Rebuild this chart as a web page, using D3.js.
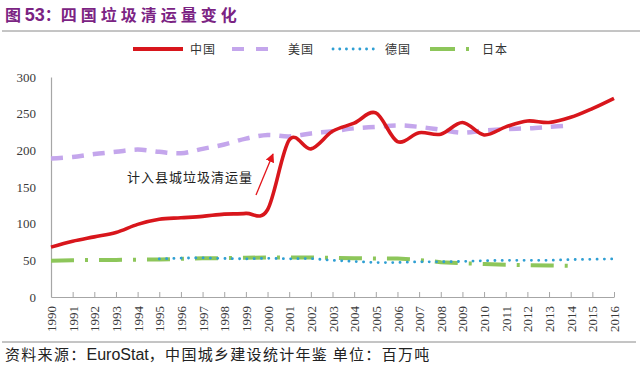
<!DOCTYPE html>
<html>
<head>
<meta charset="utf-8">
<script src="https://cdnjs.cloudflare.com/ajax/libs/d3/7.8.5/d3.min.js"></script>
<style>
  body { margin: 0; background: #fff; }
  .chart svg { display: block; }
</style>
</head>
<body>
<div class="chart"></div>
<script>
  // categories and series (million tonnes)
  var years = [1990, 1991, 1992, 1993, 1994, 1995, 1996, 1997, 1998, 1999, 2000, 2001, 2002,
               2003, 2004, 2005, 2006, 2007, 2008, 2009, 2010, 2011, 2012, 2013, 2014, 2015, 2016];
  var chinaYears = years;
  var china = [68, 76, 82, 88, 99, 106, 108, 110, 113, 114, 119, 214, 202,
               226, 237, 251, 212, 224, 222, 238, 221, 232, 240, 238, 245, 257, 271];
  var usaYears = years.slice(0, 25);
  var usa = [189, 191, 195, 198, 201, 198, 196, 202, 208, 216, 221, 219, 223,
             226, 230, 232, 234, 232, 228, 224, 227, 229, 230, 232, 234];
  var germanyYears = years.slice(5);
  var germany = [52, 53, 53.5, 52.5, 52, 52.8, 52, 52.5, 50, 48.5, 47, 47, 48,
                 48, 48.5, 49.5, 50, 50, 50, 51, 51.5, 52];
  var japanYears = years.slice(0, 25);
  var japan = [49.5, 50, 50.5, 50.5, 51, 51, 52, 53, 53, 53.5, 54, 54, 54,
               53.5, 53, 52.5, 52.5, 50.5, 47.5, 46, 45, 44, 43.5, 43, 42.5];
  var yTicks = [0, 50, 100, 150, 200, 250, 300];

  var seriesNames = ['中国', '美国', '德国', '日本'];

  var width = 640;
  var height = 370;
  var cjk = '"Noto Sans CJK SC", sans-serif';
  var serif = '"Liberation Serif", "DejaVu Serif", serif';

  var svg = d3.select('.chart')
    .append('svg')
    .attr('width', width)
    .attr('height', height);

  svg.append('rect')
    .attr('width', width)
    .attr('height', height)
    .attr('fill', '#fff');

  // title + rules
  var title = svg.append('text')
    .attr('x', 5)
    .attr('y', 21)
    .attr('fill', '#7b2383')
    .attr('font-weight', 'bold')
    .attr('font-family', cjk)
    .attr('font-size', 16);
  title.append('tspan').text('图 ');
  title.append('tspan')
    .attr('font-family', '"Liberation Sans", Arial, sans-serif')
    .attr('font-size', 18)
    .text('53');
  title.append('tspan').text('：');
  title.append('tspan')
    .attr('letter-spacing', 4)
    .text('四国垃圾清运量变化');

  svg.append('line')
    .attr('x1', 2).attr('x2', 640)
    .attr('y1', 31).attr('y2', 31)
    .attr('stroke', '#8a8a8a')
    .attr('stroke-width', 1);

  svg.append('line')
    .attr('x1', 2).attr('x2', 636)
    .attr('y1', 342).attr('y2', 342)
    .attr('stroke', '#8a8a8a')
    .attr('stroke-width', 1);

  var footer = svg.append('text')
    .attr('x', 5)
    .attr('y', 360)
    .attr('fill', '#222')
    .attr('font-family', cjk)
    .attr('font-size', 15)
    .attr('letter-spacing', 1.3);
  footer.append('tspan').text('资料来源：');
  footer.append('tspan')
    .attr('font-family', '"Liberation Sans", Arial, sans-serif')
    .attr('font-size', 16)
    .attr('letter-spacing', 0)
    .text('EuroStat');
  footer.append('tspan').text('，中国城乡建设统计年鉴 单位：百万吨');

  // scales
  var x = d3.scalePoint()
    .domain(years)
    .range([51, 614]);

  var y = d3.scaleLinear()
    .domain([0, 300])
    .range([297, 77]);

  // y axis: line and labels only
  var yAxis = svg.append('g')
    .attr('transform', 'translate(51,0)')
    .call(d3.axisLeft(y).tickValues(yTicks).tickSize(0).tickPadding(15));
  yAxis.select('.domain').attr('stroke', '#a6a6a6').attr('stroke-width', 1.2);
  yAxis.selectAll('text')
    .style('font-family', serif)
    .style('font-size', '13px')
    .attr('fill', '#3a3a3a');

  // x axis: inside ticks, rotated labels
  var xAxis = svg.append('g')
    .attr('transform', 'translate(0,297)')
    .call(d3.axisBottom(x).tickSizeInner(-5).tickSizeOuter(0).tickPadding(0));
  xAxis.select('.domain').attr('stroke', '#a6a6a6').attr('stroke-width', 1.2);
  xAxis.selectAll('.tick line').attr('stroke', '#a6a6a6');
  xAxis.selectAll('text')
    .style('font-family', serif)
    .style('font-size', '13px')
    .attr('fill', '#3a3a3a')
    .attr('text-anchor', 'end')
    .attr('transform', 'translate(0,9) rotate(-90)')
    .attr('x', 0)
    .attr('y', 0)
    .attr('dy', '0.35em');

  function pairs(ys, vs) {
    return ys.map(function(d, i) { return { year: d, value: vs[i] }; });
  }

  var smooth = d3.line()
    .x(function(d) { return x(d.year); })
    .y(function(d) { return y(d.value); })
    .curve(d3.curveCardinal.tension(0));

  var straight = d3.line()
    .x(function(d) { return x(d.year); })
    .y(function(d) { return y(d.value); });

  // draw order: japan, germany, usa, china on top
  svg.append('path')
    .datum(pairs(japanYears, japan))
    .attr('d', straight)
    .attr('fill', 'none')
    .attr('stroke', '#8dc65a')
    .attr('stroke-width', 4)
    .attr('stroke-dasharray', '23,11,3,11');

  svg.append('path')
    .datum(pairs(germanyYears, germany))
    .attr('d', straight)
    .attr('fill', 'none')
    .attr('stroke', '#2f9fd3')
    .attr('stroke-width', 2.8)
    .attr('stroke-linecap', 'round')
    .attr('stroke-dasharray', '0.1,7.2');

  svg.append('path')
    .datum(pairs(usaYears, usa))
    .attr('d', smooth)
    .attr('fill', 'none')
    .attr('stroke', '#c4a6ec')
    .attr('stroke-width', 4.5)
    .attr('stroke-dasharray', '12,9');

  svg.append('path')
    .datum(pairs(chinaYears, china))
    .attr('d', smooth)
    .attr('fill', 'none')
    .attr('stroke', '#d8161c')
    .attr('stroke-width', 3.6)
    .attr('stroke-linejoin', 'round');

  // annotation with arrow
  var defs = svg.append('defs');
  defs.append('marker')
    .attr('id', 'arrow')
    .attr('viewBox', '0 0 10 10')
    .attr('refX', 9)
    .attr('refY', 5)
    .attr('markerWidth', 9)
    .attr('markerHeight', 9)
    .attr('markerUnits', 'userSpaceOnUse')
    .attr('orient', 'auto')
    .append('path')
    .attr('d', 'M0,0L10,5L0,10z')
    .attr('fill', '#e3151b');

  svg.append('line')
    .attr('x1', 256).attr('y1', 195)
    .attr('x2', 273).attr('y2', 154)
    .attr('stroke', '#e3151b')
    .attr('stroke-width', 1.3)
    .attr('marker-end', 'url(#arrow)');

  svg.append('text')
    .attr('x', 127)
    .attr('y', 182)
    .attr('font-family', cjk)
    .attr('font-size', 13)
    .attr('letter-spacing', 1)
    .attr('fill', '#222')
    .text('计入县城垃圾清运量');

  // legend
  var legendX = [133, 232, 332, 430];
  var legendTextX = [190, 288, 385, 482];
  var legend = svg.append('g');

  legend.append('line')
    .attr('x1', legendX[0]).attr('x2', legendX[0] + 50)
    .attr('y1', 49).attr('y2', 49)
    .attr('stroke', '#d8161c').attr('stroke-width', 4);
  legend.append('line')
    .attr('x1', legendX[1]).attr('x2', legendX[1] + 37)
    .attr('y1', 49).attr('y2', 49)
    .attr('stroke', '#c4a6ec').attr('stroke-width', 4)
    .attr('stroke-dasharray', '12,12');
  legend.append('line')
    .attr('x1', legendX[2] + 1).attr('x2', legendX[2] + 42)
    .attr('y1', 49).attr('y2', 49)
    .attr('stroke', '#2f9fd3').attr('stroke-width', 2.8)
    .attr('stroke-linecap', 'round')
    .attr('stroke-dasharray', '0.1,6.6');
  legend.append('line')
    .attr('x1', legendX[3]).attr('x2', legendX[3] + 39)
    .attr('y1', 49).attr('y2', 49)
    .attr('stroke', '#8dc65a').attr('stroke-width', 4)
    .attr('stroke-dasharray', '25,11,3,11');

  legend.selectAll('.legend-label')
    .data(seriesNames)
    .enter()
    .append('text')
    .attr('class', 'legend-label')
    .attr('x', function(d, i) { return legendTextX[i]; })
    .attr('y', 53.5)
    .attr('font-family', cjk)
    .attr('font-size', 12)
    .attr('letter-spacing', 1)
    .attr('fill', '#333')
    .text(function(d) { return d; });
</script>
</body>
</html>
